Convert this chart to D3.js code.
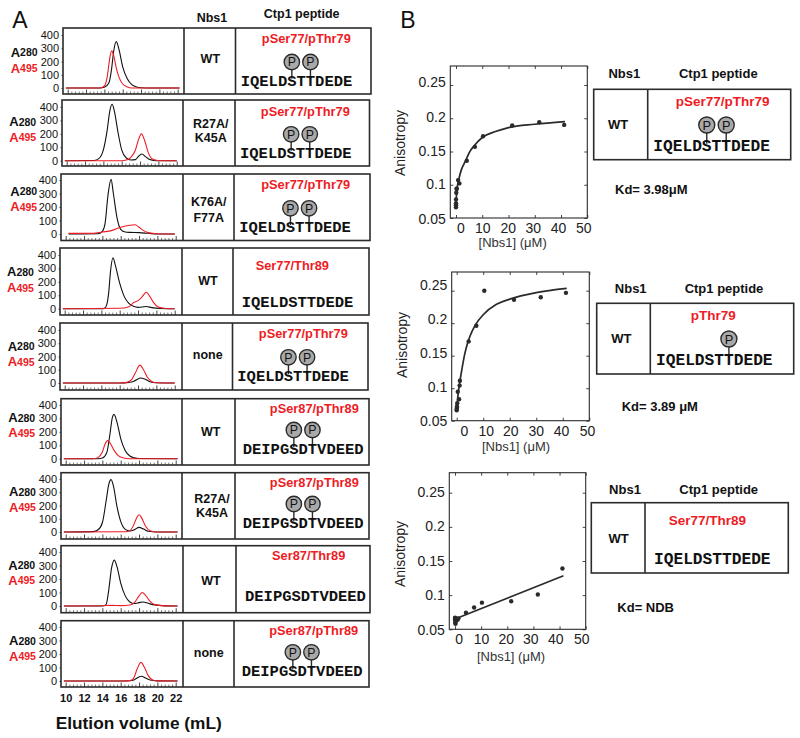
<!DOCTYPE html>
<html>
<head>
<meta charset="utf-8">
<script src="https://cdnjs.cloudflare.com/ajax/libs/d3/7.8.5/d3.min.js"></script>
<style>
  html, body { margin: 0; padding: 0; background: #fff; }
  svg { display: block; }
  text { font-family: "Liberation Sans", Arial, sans-serif; }
  .seq { font-family: "Liberation Mono", "Courier New", monospace; font-weight: bold; }
</style>
</head>
<body>
<svg id="fig" width="800" height="738"></svg>
<script>
// Panel A: elution traces, [volume mL, absorbance]
const a280_1 = [[9.8,0],[13.5,0],[14,5],[14.5,40],[14.8,150],[15,270],[15.3,350],[15.6,290],[16,160],[16.5,70],[17,25],[17.5,8],[18,2],[19,0],[22.2,0]];
const a495_1 = [[9.8,0],[13.5,0],[14,15],[14.3,80],[14.6,230],[14.8,280],[15,250],[15.3,150],[15.6,80],[16,30],[16.5,8],[17,0],[22.2,0]];
const a280_2 = [[9.8,0],[13,2],[13.5,15],[14,80],[14.4,220],[14.7,370],[14.95,420],[15.2,370],[15.6,210],[16,80],[16.5,20],[17,5],[17.5,8],[17.8,30],[18.2,50],[18.6,30],[19,10],[19.5,2],[20,0],[22,0]];
const a495_2 = [[9.8,0],[16,0],[16.5,5],[17,25],[17.5,80],[17.8,150],[18.15,200],[18.5,150],[18.9,60],[19.3,15],[20,2],[22,0]];
const a280_3 = [[10.3,0],[13.5,2],[14,20],[14.3,80],[14.6,280],[14.95,405],[15.2,300],[15.6,120],[16,35],[16.5,15],[17,12],[18,10],[19,5],[20,0],[21.9,0]];
const a495_3 = [[10.3,5],[13,5],[14,15],[15,25],[16,50],[17,65],[17.6,68],[18,50],[18.5,25],[19,10],[20,2],[21.9,0]];
const a280_4 = [[9.8,0],[14.2,0],[14.5,15],[14.8,120],[15,280],[15.27,380],[15.5,330],[16,190],[16.5,90],[17,40],[17.5,18],[18,10],[18.9,16],[19.5,8],[20.5,2],[22,0]];
const a495_4 = [[9.8,0],[16,3],[17,15],[17.5,45],[18,60],[18.4,85],[18.9,122],[19.3,90],[19.7,45],[20.2,12],[21,2],[22,0]];
const a280_5 = [[9.8,0],[16,0],[17,5],[17.5,12],[18,30],[18.2,38],[18.8,28],[19.3,10],[20,2],[22,0]];
const a495_5 = [[9.8,0],[16,0],[16.8,5],[17.3,25],[17.7,75],[18.2,135],[18.6,100],[19,45],[19.5,12],[20,2],[22,0]];
const a280_6 = [[9.8,0],[13.5,0],[14,5],[14.5,50],[14.8,170],[15.1,310],[15.27,330],[15.6,270],[16,150],[16.5,60],[17,20],[17.5,6],[18,1],[22.2,0]];
const a495_6 = [[9.8,0],[13,0],[13.5,8],[14,50],[14.3,110],[14.6,135],[14.9,110],[15.3,60],[15.7,25],[16.2,7],[17,0],[22.2,0]];
const a280_7 = [[9.8,0],[13,3],[13.5,15],[14,70],[14.4,230],[14.7,360],[14.95,395],[15.2,350],[15.6,190],[16,80],[16.5,20],[17,8],[17.5,18],[18,35],[18.5,22],[19,6],[20,0],[22.2,0]];
const a495_7 = [[9.8,0],[16.5,2],[17,10],[17.4,50],[17.7,100],[18,130],[18.3,105],[18.7,45],[19.2,10],[20,0],[22.2,0]];
const a280_8 = [[9.8,0],[14,0],[14.4,10],[14.7,120],[15,280],[15.3,340],[15.6,290],[16,170],[16.5,75],[17,30],[17.5,18],[18,25],[18.4,30],[19,20],[19.5,10],[20.5,3],[22.2,0]];
const a495_8 = [[9.8,0],[14,2],[15,5],[16,3],[17,8],[17.5,25],[18,75],[18.35,100],[18.7,80],[19.2,35],[19.7,10],[20.5,3],[22.2,0]];
const a280_9 = [[9.8,0],[16,0],[17,2],[17.5,10],[18,30],[18.25,35],[18.7,22],[19.2,7],[20,1],[22.2,0]];
const a495_9 = [[9.8,0],[16,0],[17,3],[17.4,20],[17.8,90],[18.2,138],[18.6,100],[19,40],[19.5,8],[20,1],[22.2,0]];
const a280Traces = [a280_1, a280_2, a280_3, a280_4, a280_5, a280_6, a280_7, a280_8, a280_9];
const a495Traces = [a495_1, a495_2, a495_3, a495_4, a495_5, a495_6, a495_7, a495_8, a495_9];

const nbs1Labels = [["WT"], ["R27A/", "K45A"], ["K76A/", "F77A"], ["WT"], ["none"], ["WT"], ["R27A/", "K45A"], ["WT"], ["none"]];
const peptideNames = ["pSer77/pThr79", "pSer77/pThr79", "pSer77/pThr79", "Ser77/Thr89", "pSer77/pThr79", "pSer87/pThr89", "pSer87/pThr89", "Ser87/Thr89", "pSer87/pThr89"];
const seq77 = "IQELDSTTDEDE";
const seq87 = "DEIPGSDTVDEED";
const sequences = [seq77, seq77, seq77, seq77, seq77, seq87, seq87, seq87, seq87];
const phosphoSites = [[5, 7], [5, 7], [5, 7], [], [5, 7], [5, 7], [5, 7], [], [5, 7]];
const absTicks = [0, 100, 200, 300, 400];
const volTicks = [10, 12, 14, 16, 18, 20, 22];
const volMinorTicks = [10.4, 10.8, 11.2, 11.6, 12.4, 12.8, 13.2, 13.6, 14.4, 14.8, 15.2, 15.6, 16.4, 16.8, 17.2, 17.6, 18.4, 18.8, 19.2, 19.6, 20.4, 20.8, 21.2, 21.6];

// Panel B: titration points and fitted curves
const concTicks = [0, 10, 20, 30, 40, 50];
const anisoTicks = [0.05, 0.1, 0.15, 0.2, 0.25];
const conc1 = [0, 0, 0, 0, 0.1, 0.2, 0.3, 0.8, 1.3, 4.1, 7.2, 10.3, 21.4, 31.7, 41.2];
const aniso1 = [0.066, 0.069, 0.072, 0.078, 0.088, 0.094, 0.094, 0.107, 0.102, 0.136, 0.157, 0.173, 0.189, 0.194, 0.19];
const fit1 = [[-0.1,0.066],[0.2,0.085],[0.5,0.097],[1,0.107],[2,0.122],[3,0.131],[4.1,0.14],[5,0.148],[7,0.159],[10,0.171],[15,0.18],[20,0.186],[30,0.191],[41.5,0.195]];
const conc2 = [0, 0, 0.1, 0.1, 0.2, 0.4, 0.9, 1.1, 1.2, 4.5, 7.4, 10.4, 21.6, 31.7, 41.2];
const aniso2 = [0.066, 0.068, 0.07, 0.072, 0.077, 0.0945, 0.083, 0.104, 0.1115, 0.172, 0.196, 0.25, 0.236, 0.24, 0.2467];
const fit2 = [[0,0.066],[0.5,0.09],[1,0.105],[2,0.13],[3,0.152],[4,0.168],[5,0.18],[7,0.197],[10,0.213],[15,0.229],[20,0.237],[30,0.247],[41.5,0.2535]];
const conc3 = [0, 0, 0.1, 0.2, 0.3, 0.5, 1, 1.3, 4.2, 7.3, 10.3, 21.5, 31.7, 41.1];
const aniso3 = [0.067, 0.064, 0.06, 0.058, 0.062, 0.066, 0.064, 0.066, 0.0744, 0.082, 0.089, 0.091, 0.101, 0.139];
const fit3 = [[0,0.065],[41.5,0.1285]];

// Layout
const rowLeft = [63, 62, 61, 60, 60, 61, 61, 61, 61];
const rowRight = [371, 369.5, 370, 369, 368, 369, 369, 370, 369];
const rowTop = [28, 100, 174, 248, 323, 398.7, 472.7, 545.7, 620.7];
const rowBottom = [94, 166, 240.5, 315, 390, 465, 539, 612.7, 687];
const rowDiv1 = [184, 183, 183, 182, 182, 182, 182, 183, 183];
const rowDiv2 = [235.5, 235, 234, 233, 232.5, 235, 235, 236, 234];
const rowY0 = [88, 160.7, 234, 308.7, 383, 458.7, 532, 606, 681];
const rowY400 = [35, 107, 180, 255, 330, 405, 479, 552, 627];
const absLabelX = [10.7, 9.3, 10.3, 7, 7.7, 8.3, 9, 8.3, 9];
const a280LabelY = [52.3, 121.7, 191, 271.7, 346, 417.7, 491.7, 565, 640.7];
const a495LabelY = [68.3, 137, 206.7, 287.7, 361.7, 432.7, 507.3, 580, 656];
const nbsX = [210.3, 210.7, 208.7, 208, 207.7, 210.7, 212, 211, 208.7];
const nbsY = [59.3, 123.7, 202.3, 281.3, 355.3, 432.3, 499, 580.7, 653.3];
const nameX = [306.3, 305.3, 305.7, 292.3, 303.3, 314.3, 314.3, 308.7, 313.7];
const nameY = [38, 111, 184, 265, 333.7, 408, 482.3, 555, 630.3];
const seqX = [240.7, 240, 239.3, 241.7, 237.3, 242.7, 242.7, 245, 241.7];
const seqY = [81.7, 153.7, 228, 302.7, 377.3, 450.3, 524.3, 597.3, 672.3];
const circleY = [62, 134.3, 208.3, 0, 357.3, 430, 504, 0, 652.3];

const red = "#ee1c25";
const ink = "#2b2b2b";
const svg = d3.select("#fig");

function label(g, x, y, str, size, opts = {}) {
  return g.append("text")
    .attr("x", x).attr("y", y)
    .attr("dominant-baseline", "central")
    .attr("text-anchor", opts.anchor || "middle")
    .attr("font-size", size)
    .attr("font-weight", opts.weight || "bold")
    .attr("fill", opts.fill || "#111")
    .text(str);
}

function box(g, left, top, right, bottom, width) {
  g.append("rect")
    .attr("x", left).attr("y", top)
    .attr("width", right - left).attr("height", bottom - top)
    .attr("fill", "none").attr("stroke", ink).attr("stroke-width", width);
}

function divider(g, x, top, bottom, width) {
  g.append("line")
    .attr("x1", x).attr("x2", x).attr("y1", top).attr("y2", bottom)
    .attr("stroke", ink).attr("stroke-width", width);
}

// peptide sequence with its phospho circles on top
function peptide(g, seq, x, y, size, sites, cy, r) {
  const charW = size * 0.6;
  sites.forEach(i => {
    const cx = x + (i + 0.5) * charW;
    g.append("line").attr("x1", cx).attr("x2", cx).attr("y1", cy).attr("y2", y - 3)
      .attr("stroke", ink).attr("stroke-width", 1.4);
    g.append("circle").attr("cx", cx).attr("cy", cy).attr("r", r)
      .attr("fill", "#a9a9a9").attr("stroke", ink).attr("stroke-width", 1.4);
    label(g, cx, cy + 0.3, "P", r * 1.6, { weight: "normal", fill: "#111" });
  });
  label(g, x, y, seq, size, { anchor: "start" }).attr("class", "seq");
}

// ---- Panel A ----
const panelA = svg.append("g");
label(panelA, 20, 20, "A", 23, { weight: "normal" });
label(panelA, 212, 17.5, "Nbs1", 12.5);
label(panelA, 301.7, 14, "Ctp1 peptide", 12.5);

a280Traces.forEach((black, i) => {
  const row = panelA.append("g");
  const left = rowLeft[i], top = rowTop[i], bottom = rowBottom[i];
  const x = d3.scaleLinear().domain([10, 22]).range([left + 4.7, left + 114.7]);
  const y = d3.scaleLinear().domain([0, 400]).range([rowY0[i], rowY400[i]]);
  const line = d3.line().x(d => x(d[0])).y(d => y(d[1])).curve(d3.curveMonotoneX);

  // minor and major ticks along the bottom
  row.append("g").attr("transform", `translate(0,${bottom})`)
    .call(d3.axisBottom(x).tickValues(volMinorTicks).tickSize(-2.5).tickFormat(""))
    .call(g => g.select(".domain").remove())
    .call(g => g.selectAll("line").attr("stroke", "#444").attr("stroke-width", 0.7));
  const major = row.append("g").attr("transform", `translate(0,${bottom})`)
    .call(d3.axisBottom(x).tickValues(volTicks).tickSize(-4.5).tickPadding(7.5)
      .tickFormat(i === 8 ? d3.format("d") : ""))
    .call(g => g.select(".domain").remove())
    .call(g => g.selectAll("line").attr("stroke", "#333").attr("stroke-width", 0.9));
  major.selectAll("text")
    .attr("font-family", "Liberation Sans").attr("font-size", 11).attr("font-weight", "bold").attr("fill", "#111");

  row.append("g").attr("transform", `translate(${left},0)`)
    .call(d3.axisLeft(y).tickValues(absTicks).tickSize(1.5).tickPadding(2.5))
    .call(g => g.select(".domain").remove())
    .call(g => g.selectAll("line").attr("stroke", "#444"))
    .call(g => g.selectAll("text")
      .attr("font-family", "Liberation Sans").attr("font-size", 11).attr("fill", "#111"));

  row.append("path").attr("d", line(black))
    .attr("fill", "none").attr("stroke", "#111").attr("stroke-width", 1.1);
  row.append("path").attr("d", line(a495Traces[i]))
    .attr("fill", "none").attr("stroke", red).attr("stroke-width", 1.1);

  box(row, left, top, rowRight[i], bottom, 1.6);
  divider(row, rowDiv1[i], top, bottom, 1.6);
  divider(row, rowDiv2[i], top, bottom, 1.6);

  const a280 = label(row, absLabelX[i], a280LabelY[i], "A", 13, { anchor: "start" });
  a280.append("tspan").attr("font-size", 10.5).text("280");
  const a495 = label(row, absLabelX[i], a495LabelY[i], "A", 13, { anchor: "start", fill: red });
  a495.append("tspan").attr("font-size", 10.5).text("495");

  nbs1Labels[i].forEach((str, k) => {
    const lineGap = i === 2 ? 15.4 : 14.3;
    label(row, nbsX[i], nbsY[i] + k * lineGap, str, 12.5);
  });
  label(row, nameX[i], nameY[i], peptideNames[i], 12.8, { fill: red });
  peptide(row, sequences[i], seqX[i], seqY[i], 15.5, phosphoSites[i], circleY[i], 7.7);
});
label(panelA, 55.7, 723.3, "Elution volume (mL)", 17.3, { anchor: "start" });

// ---- Panel B ----
const panelB = svg.append("g");
label(panelB, 408, 20, "B", 23, { weight: "normal" });

const charts = [
  { conc: conc1, aniso: aniso1, fit: fit1, left: 450.3, right: 587.3, top: 66, bottom: 218, zero: 456, fifty: 587.3, y05: 218, y25: 85,
    xLabels: [460.3, 482.3, 507.7, 532.7, 558, 583.3], yLabels: [219, 184.3, 150.7, 117.3, 81.7], titleX: 400, titleY: 143, axisX: 512.7, axisY: 242.7 },
  { conc: conc2, aniso: aniso2, fit: fit2, left: 451.7, right: 589.3, top: 272, bottom: 420.7, zero: 456.7, fifty: 589.3, y05: 420.7, y25: 290.7,
    xLabels: [464, 485.7, 510.3, 535.7, 561, 587], yLabels: [421.3, 387.3, 353.3, 319.3, 285], titleX: 402, titleY: 345, axisX: 516, axisY: 446.7 },
  { conc: conc3, aniso: aniso3, fit: fit3, left: 449.3, right: 585.7, top: 472.7, bottom: 629.3, zero: 455, fifty: 585.7, y05: 629.3, y25: 492.7,
    xLabels: [458.7, 481, 505.7, 530.3, 555.3, 581.3], yLabels: [630, 594.7, 561, 525.7, 492], titleX: 400, titleY: 554, axisX: 511, axisY: 656.7 }
];

charts.forEach(c => {
  const g = panelB.append("g");
  const x = d3.scaleLinear().domain([0, 50]).range([c.zero, c.fifty]);
  const y = d3.scaleLinear().domain([0.05, 0.25]).range([c.y05, c.y25]);
  const line = d3.line().x(d => x(d[0])).y(d => y(d[1])).curve(d3.curveMonotoneX);

  const styleAxis = a => a.call(s => s.select(".domain").remove())
    .call(s => s.selectAll("line").attr("stroke", "#444").attr("stroke-width", 1));

  g.append("g").attr("transform", `translate(0,${c.bottom})`)
    .call(d3.axisBottom(x).tickValues(concTicks).tickSize(-3).tickPadding(5))
    .call(styleAxis)
    .call(a => a.selectAll("text")
      .attr("x", (d, i) => c.xLabels[i] - x(d))
      .attr("font-family", "Liberation Sans").attr("font-size", 14).attr("fill", "#222"));
  g.append("g").attr("transform", `translate(0,${c.top})`)
    .call(d3.axisTop(x).tickValues(concTicks).tickSize(-3).tickFormat(""))
    .call(styleAxis);
  g.append("g").attr("transform", `translate(${c.left},0)`)
    .call(d3.axisLeft(y).tickValues(anisoTicks).tickSize(-3).tickPadding(4.5)
      .tickFormat(d => String(+d.toFixed(2))))
    .call(styleAxis)
    .call(a => a.selectAll("text")
      .attr("y", (d, i) => c.yLabels[i] - y(d))
      .attr("font-family", "Liberation Sans").attr("font-size", 14).attr("fill", "#222"));
  g.append("g").attr("transform", `translate(${c.right},0)`)
    .call(d3.axisRight(y).tickValues(anisoTicks).tickSize(-3).tickFormat(""))
    .call(styleAxis);

  box(g, c.left, c.top, c.right, c.bottom, 1.1);

  g.append("path").attr("d", line(c.fit))
    .attr("fill", "none").attr("stroke", "#2a2a2a").attr("stroke-width", 1.7);
  g.selectAll("circle.pt").data(c.conc).enter().append("circle")
    .attr("class", "pt")
    .attr("cx", d => x(d))
    .attr("cy", (d, i) => y(c.aniso[i]))
    .attr("r", 2.2)
    .attr("fill", "#2a2a2a");

  label(g, 0, 0, "Anisotropy", 14, { weight: "normal", fill: "#222" })
    .attr("transform", `translate(${c.titleX},${c.titleY}) rotate(-90)`);
  label(g, c.axisX, c.axisY, "[Nbs1] (μM)", 13, { weight: "normal", fill: "#333" });
});

// peptide tables next to the titrations
const tables = [
  { left: 593.7, right: 790.7, top: 89.3, bottom: 159.7, div: 647.7, nbsX: 624.3, ctpX: 718.3, headY: 73.7, wtX: 618, wtY: 124.7,
    name: "pSer77/pThr79", nameX: 722.7, nameY: 101, seqX: 653.3, seqY: 146.7, sites: [5, 7], cy: 125, kd: "Kd= 3.98μM", kdX: 615, kdY: 189 },
  { left: 596.7, right: 793.7, top: 303.3, bottom: 374, div: 650.3, nbsX: 630.7, ctpX: 724, headY: 288.7, wtX: 621.3, wtY: 338.3,
    name: "pThr79", nameX: 713.3, nameY: 315, seqX: 656, seqY: 360.7, sites: [7], cy: 339, kd: "Kd= 3.89 μM", kdX: 621.7, kdY: 406 },
  { left: 591.3, right: 788.3, top: 502.7, bottom: 573, div: 645, nbsX: 625, ctpX: 718.7, headY: 489, wtX: 618.7, wtY: 538,
    name: "Ser77/Thr89", nameX: 707.3, nameY: 520.7, seqX: 654, seqY: 560, sites: [], cy: 0, kd: "Kd= NDB", kdX: 617.3, kdY: 607.7 }
];

tables.forEach(t => {
  const g = panelB.append("g");
  box(g, t.left, t.top, t.right, t.bottom, 1.6);
  divider(g, t.div, t.top, t.bottom, 1.6);
  label(g, t.nbsX, t.headY, "Nbs1", 13);
  label(g, t.ctpX, t.headY, "Ctp1 peptide", 13);
  label(g, t.wtX, t.wtY, "WT", 13);
  label(g, t.nameX, t.nameY, t.name, 13.5, { fill: red });
  peptide(g, seq77, t.seqX, t.seqY, 16.2, t.sites, t.cy, 8);
  label(g, t.kdX, t.kdY, t.kd, 13, { anchor: "start" });
});
</script>
</body>
</html>
